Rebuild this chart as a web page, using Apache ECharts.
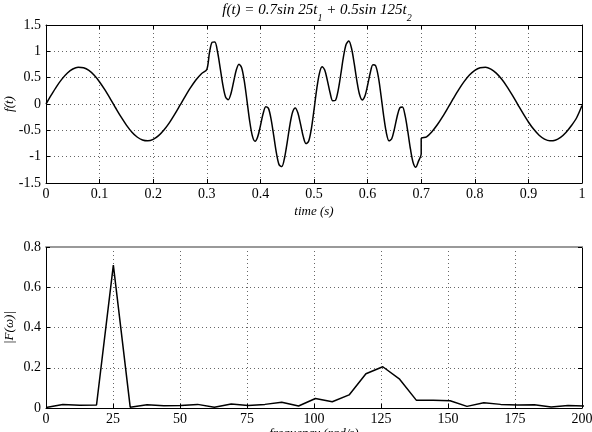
<!DOCTYPE html>
<html>
<head>
<meta charset="utf-8">
<script src="https://cdn.jsdelivr.net/npm/echarts@6/dist/echarts.min.js"></script>
<style>
  html, body { margin: 0; padding: 0; background: #fff; }
  #main { width: 592px; height: 432px; }
</style>
</head>
<body>
<div id="main"></div>
<script>
// time signal
var timeS = [
  0, 0.01, 0.02, 0.03, 0.04, 0.05, 0.06, 0.07, 0.08, 0.09,
  0.1, 0.11, 0.12, 0.13, 0.14, 0.15, 0.16, 0.17, 0.18, 0.19,
  0.2, 0.21, 0.22, 0.23, 0.24, 0.25, 0.26, 0.27, 0.28, 0.29,
  0.3, 0.305, 0.31, 0.315, 0.32, 0.325, 0.33, 0.335, 0.34, 0.345,
  0.35, 0.355, 0.36, 0.365, 0.37, 0.375, 0.38, 0.385, 0.39, 0.395,
  0.4, 0.405, 0.41, 0.415, 0.42, 0.425, 0.43, 0.435, 0.44, 0.445,
  0.45, 0.455, 0.46, 0.465, 0.47, 0.475, 0.48, 0.485, 0.49, 0.495,
  0.5, 0.505, 0.51, 0.515, 0.52, 0.525, 0.53, 0.535, 0.54, 0.545,
  0.55, 0.555, 0.56, 0.565, 0.57, 0.575, 0.58, 0.585, 0.59, 0.595,
  0.6, 0.605, 0.61, 0.615, 0.62, 0.625, 0.63, 0.635, 0.64, 0.645,
  0.65, 0.655, 0.66, 0.665, 0.67, 0.675, 0.68, 0.685, 0.69, 0.695,
  0.7, 0.7, 0.71, 0.72, 0.73, 0.74, 0.75, 0.76, 0.77, 0.78, 0.79,
  0.8, 0.81, 0.82, 0.83, 0.84, 0.85, 0.86, 0.87, 0.88, 0.89,
  0.9, 0.91, 0.92, 0.93, 0.94, 0.95, 0.96, 0.97, 0.98, 0.99, 1.0
];
var signal = [
  0, 0.173, 0.336, 0.477, 0.589, 0.664, 0.698, 0.689, 0.637, 0.545,
  0.419, 0.267, 0.099, -0.076, -0.246, -0.4, -0.53, -0.627, -0.684, -0.7,
  -0.671, -0.601, -0.494, -0.357, -0.196, -0.023, 0.151, 0.315, 0.46, 0.576,
  0.657, 0.975, 1.171, 1.177, 0.992, 0.683, 0.36, 0.135, 0.08, 0.195,
  0.42, 0.645, 0.757, 0.689, 0.434, 0.06, -0.325, -0.605, -0.708, -0.623,
  -0.414, -0.186, -0.051, -0.083, -0.29, -0.611, -0.937, -1.156, -1.188, -1.025,
  -0.728, -0.399, -0.157, -0.076, -0.172, -0.388, -0.62, -0.752, -0.709, -0.476,
  -0.112, 0.277, 0.578, 0.706, 0.644, 0.445, 0.213, 0.06, 0.069, 0.255,
  0.565, 0.898, 1.135, 1.195, 1.058, 0.771, 0.441, 0.18, 0.077, 0.152,
  0.356, 0.593, 0.744, 0.726, 0.518, 0.165, -0.228, -0.547, -0.699, -0.66,
  -0.476, -0.241, -0.072, -0.057, -0.222, -0.522, -0.859, -1.114, -1.199, -1.085,
  -0.95, -0.66, -0.624, -0.526, -0.395, -0.24, -0.07, 0.105, 0.273, 0.424, 0.549,
  0.639, 0.69, 0.698, 0.662, 0.586, 0.473, 0.33, 0.167, -0.006, -0.179,
  -0.341, -0.481, -0.593, -0.666, -0.699, -0.688, -0.634, -0.541, -0.414, -0.261, -0.03
];

// spectrum
var freq = [
  0, 6.28, 12.57, 18.85, 25.13, 31.42, 37.7, 43.98, 50.27, 56.55,
  62.83, 69.12, 75.4, 81.68, 87.96, 94.25, 100.53, 106.81, 113.1, 119.38,
  125.66, 131.95, 138.23, 144.51, 150.8, 157.08, 163.36, 169.65, 175.93, 182.21,
  188.5, 194.78, 201.06
];
var mag = [
  0.002, 0.017, 0.014, 0.015, 0.71, 0.004, 0.016, 0.011, 0.012, 0.018,
  0.004, 0.02, 0.013, 0.018, 0.029, 0.01, 0.047, 0.031, 0.065, 0.17,
  0.205, 0.143, 0.038, 0.038, 0.036, 0.008, 0.026, 0.018, 0.015, 0.016,
  0.005, 0.012, 0.01
];

var serif = 'Liberation Serif';

function pairs(xs, ys) {
    var out = [];
    for (var i = 0; i < xs.length; i++) out.push([xs[i], ys[i]]);
    return out;
}

//网格虚线
var dots = { show: true, lineStyle: { color: '#666', type: [1, 3], width: 1 } };
var blackLine = { show: true, onZero: false, lineStyle: { color: '#000', width: 1 } };
var tickIn = { show: true, inside: true, length: 4, lineStyle: { color: '#000' } };
var lbl = { color: '#000', fontFamily: serif, fontSize: 14 };
var nameFont = { color: '#000', fontFamily: serif, fontStyle: 'italic', fontSize: 13 };

var chart = echarts.init(document.getElementById('main'));
chart.setOption({
    animation: false,
    backgroundColor: '#fff',
    title: {
        text: '{a|f(t) = 0.7sin 25t}{s|1}{a| + 0.5sin 125t}{s|2}',
        left: 312,
        top: -2,
        textAlign: 'center',
        textStyle: {
            fontWeight: 'normal',
            rich: {
                a: { fontFamily: serif, fontStyle: 'italic', fontWeight: 'normal', fontSize: 15, color: '#000', lineHeight: 20, verticalAlign: 'top' },
                s: { fontFamily: serif, fontStyle: 'italic', fontWeight: 'normal', fontSize: 10, color: '#000', lineHeight: 20, verticalAlign: 'bottom' }
            }
        }
    },
    grid: [
        { left: 46, right: 10, top: 25, height: 158, outerBoundsMode: 'none', containLabel: false },
        { left: 46, right: 10, top: 247, height: 161, outerBoundsMode: 'none', containLabel: false }
    ],
    xAxis: [
        {
            gridIndex: 0, type: 'value', min: 0, max: 1, interval: 0.1,
            axisLine: blackLine, axisTick: tickIn, splitLine: dots,
            axisLabel: Object.assign({ margin: 4 }, lbl),
            name: 'time (s)', nameLocation: 'middle', nameGap: 22, nameMoveOverlap: false, nameTextStyle: nameFont
        },
        {
            gridIndex: 0, type: 'value', min: 0, max: 1, interval: 0.1, position: 'top',
            axisLine: blackLine, axisTick: tickIn, axisLabel: { show: false }, splitLine: { show: false }
        },
        {
            gridIndex: 1, type: 'value', min: 0, max: 200, interval: 25,
            axisLine: blackLine, axisTick: tickIn, splitLine: dots,
            axisLabel: Object.assign({ margin: 4 }, lbl),
            name: 'frequency (rad/s)', nameLocation: 'middle', nameGap: 19, nameMoveOverlap: false, nameTextStyle: nameFont
        },
        {
            gridIndex: 1, type: 'value', min: 0, max: 200, interval: 25, position: 'top',
            axisLine: { show: true, onZero: false, lineStyle: { color: '#999', width: 2 } },
            axisTick: { show: false }, axisLabel: { show: false }, splitLine: { show: false }
        }
    ],
    yAxis: [
        {
            gridIndex: 0, type: 'value', min: -1.5, max: 1.5, interval: 0.5,
            axisLine: blackLine, axisTick: tickIn, splitLine: dots,
            axisLabel: Object.assign({ margin: 5 }, lbl),
            name: 'f(t)', nameLocation: 'middle', nameGap: 30, nameRotate: 90, nameMoveOverlap: false, nameTextStyle: nameFont
        },
        {
            gridIndex: 0, type: 'value', min: -1.5, max: 1.5, interval: 0.5, position: 'right',
            axisLine: blackLine, axisTick: tickIn, axisLabel: { show: false }, splitLine: { show: false }
        },
        {
            gridIndex: 1, type: 'value', min: 0, max: 0.8, interval: 0.2,
            axisLine: blackLine, axisTick: tickIn, splitLine: dots,
            axisLabel: Object.assign({ margin: 5 }, lbl),
            name: '|F(ω)|', nameLocation: 'middle', nameGap: 30, nameRotate: 90, nameMoveOverlap: false, nameTextStyle: nameFont
        },
        {
            gridIndex: 1, type: 'value', min: 0, max: 0.8, interval: 0.2, position: 'right',
            axisLine: blackLine, axisTick: tickIn, axisLabel: { show: false }, splitLine: { show: false }
        }
    ],
    series: [
        {
            name: 'f(t)',
            type: 'line',
            xAxisIndex: 0,
            yAxisIndex: 0,
            showSymbol: false,
            smooth: 0.3,
            lineStyle: { color: '#000', width: 1.5 },
            data: pairs(timeS, signal)
        },
        {
            name: '|F(w)|',
            type: 'line',
            xAxisIndex: 2,
            yAxisIndex: 2,
            showSymbol: false,
            clip: true,
            lineStyle: { color: '#000', width: 1.5 },
            data: pairs(freq, mag)
        }
    ]
});
</script>
</body>
</html>
